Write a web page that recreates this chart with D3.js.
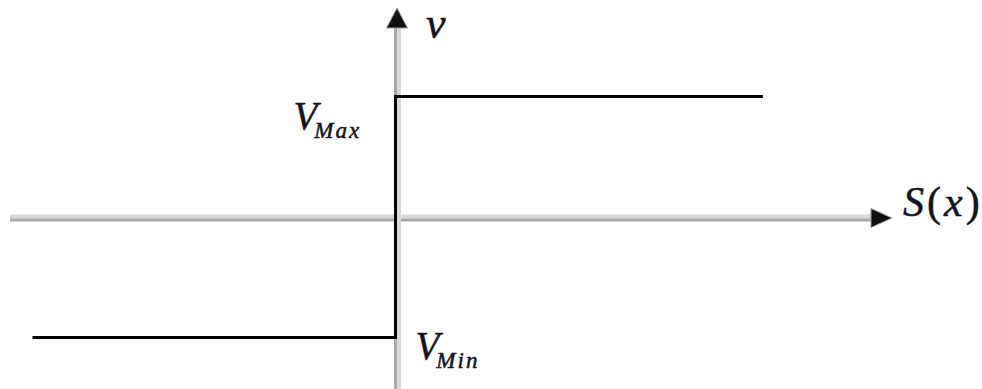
<!DOCTYPE html>
<html>
<head>
<meta charset="utf-8">
<script src="https://cdn.jsdelivr.net/npm/d3@7/dist/d3.min.js"></script>
<style>
  html, body { margin: 0; padding: 0; background: #fff; }
  svg { display: block; }
  text { font-family: "Liberation Serif", "DejaVu Serif", serif; fill: #141420; stroke: #141420; stroke-width: 0.5; }
</style>
</head>
<body>
<svg id="chart" width="982" height="389"></svg>
<script>
// Relay characteristic: output switches from V_Min to V_Max at S(x) = 0
const stepS = [-1, 0, 0, 1.012];     // switching-function values along the curve
const stepV = [-1, -1, 1, 1];        // corresponding output levels
const levelNames = ["Max", "Min"];   // subscripts of the two output levels
const levelValues = [1, -1];
const axisNames = ["S(x)", "v"];

const svg = d3.select("#chart");
const W = 982, H = 389;

const x = d3.scaleLinear().domain([-1, 1]).range([32.5, 758.5]);
const y = d3.scaleLinear().domain([-1, 1]).range([337.5, 96.5]);
const x0 = x(0), y0 = y(0);

// horizontal axis (two-tone grey band)
svg.append("rect").attr("x", 10).attr("y", y0 - 2.5).attr("width", 862).attr("height", 4).attr("fill", "#d9d9d9");
svg.append("rect").attr("x", 10).attr("y", y0 + 1.5).attr("width", 862).attr("height", 3).attr("fill", "#a9a9a9");
// vertical axis
svg.append("rect").attr("x", x0 - 1.5).attr("y", 26).attr("width", 3).attr("height", H - 26).attr("fill", "#a9a9a9");
svg.append("rect").attr("x", x0 + 1.5).attr("y", 26).attr("width", 4).attr("height", H - 26).attr("fill", "#d9d9d9");

// arrow heads
svg.append("path")
  .attr("d", `M${x0 + 1.5},8 L${x0 + 12},28 L${x0 - 9},28 Z`)
  .attr("fill", "#111").attr("stroke", "#9a9a9a").attr("stroke-width", 1);
svg.append("path")
  .attr("d", `M892,${y0 + 1} L871,${y0 - 8.5} L871,${y0 + 10.5} Z`)
  .attr("fill", "#111").attr("stroke", "#9a9a9a").attr("stroke-width", 1);

// the step curve
const line = d3.line().x((d, i) => x(stepS[i])).y((d, i) => y(stepV[i]));
svg.append("path")
  .datum(stepS)
  .attr("d", line)
  .attr("fill", "none")
  .attr("stroke", "#000")
  .attr("stroke-width", 3)
  .attr("stroke-linejoin", "miter");

// level labels
const labelPos = [
  { dx: x0 - 102, dy: y(levelValues[0]) + 32 },
  { dx: x0 + 20, dy: y(levelValues[1]) + 21 }
];
levelNames.forEach((name, i) => {
  const t = svg.append("text")
    .attr("x", labelPos[i].dx)
    .attr("y", labelPos[i].dy)
    .attr("font-style", "italic")
    .attr("font-size", 39);
  t.append("tspan").text("V");
  t.append("tspan").attr("font-size", 23).attr("dy", 9).attr("dx", -3)
    .attr("letter-spacing", 2).text(name);
});

// axis labels
svg.append("text")
  .attr("x", 903).attr("y", 216)
  .attr("font-size", 42)
  .attr("letter-spacing", 3)
  .html('<tspan font-style="italic">S</tspan>(<tspan font-style="italic">x</tspan>)');
svg.append("text")
  .attr("x", 426).attr("y", 38)
  .attr("font-size", 44)
  .attr("font-style", "italic")
  .text(axisNames[1]);
</script>
</body>
</html>
